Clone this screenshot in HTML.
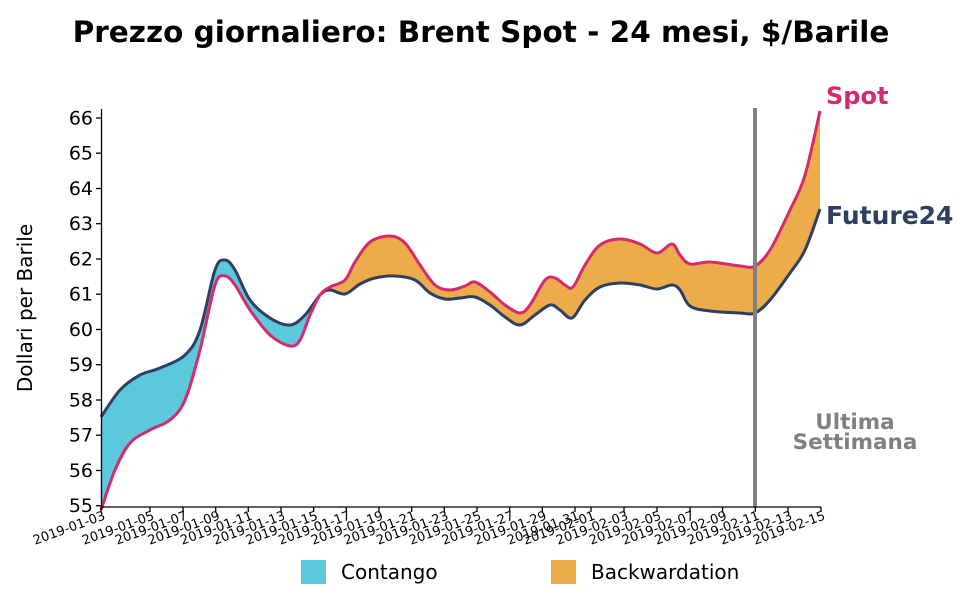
<!DOCTYPE html>
<html><head><meta charset="utf-8"><style>
body{margin:0;background:#fff}
svg{font-family:"DejaVu Sans","Liberation Sans",sans-serif}
</style></head><body>
<svg id="s" width="965" height="605" viewBox="0 0 965 605">
<rect width="965" height="605" fill="#fff"/>
<text x="481" y="42" text-anchor="middle" font-size="29.5" font-weight="bold">Prezzo giornaliero: Brent Spot - 24 mesi, $/Barile</text>
<defs>
<clipPath id="cl"><rect x="95" y="100" width="230" height="420"/></clipPath>
<clipPath id="cr"><rect x="325" y="100" width="500" height="420"/></clipPath>
</defs>
<path id="fl" clip-path="url(#cl)" fill="#5bc8dc" d=""/>
<path id="fr" clip-path="url(#cr)" fill="#ecac4c" d=""/>
<path id="lf" fill="none" stroke="#2e3f62" stroke-width="3" d=""/>
<path id="ls" fill="none" stroke="#d42a6e" stroke-width="3" d=""/>
<line x1="755" y1="108" x2="755" y2="507" stroke="#808080" stroke-width="4"/>
<g stroke="#000" stroke-width="1.3">
<line x1="101.5" y1="109" x2="101.5" y2="507"/>
<line x1="101" y1="507" x2="821" y2="507"/>
<line x1="96" y1="118" x2="101" y2="118"/><line x1="96" y1="153.2" x2="101" y2="153.2"/><line x1="96" y1="188.5" x2="101" y2="188.5"/><line x1="96" y1="223.7" x2="101" y2="223.7"/><line x1="96" y1="259" x2="101" y2="259"/><line x1="96" y1="294.2" x2="101" y2="294.2"/><line x1="96" y1="329.5" x2="101" y2="329.5"/><line x1="96" y1="364.7" x2="101" y2="364.7"/><line x1="96" y1="400" x2="101" y2="400"/><line x1="96" y1="435.2" x2="101" y2="435.2"/><line x1="96" y1="470.5" x2="101" y2="470.5"/><line x1="96" y1="505.7" x2="101" y2="505.7"/>
<line x1="101" y1="507" x2="101" y2="512"/><line x1="150" y1="507" x2="150" y2="512"/><line x1="183" y1="507" x2="183" y2="512"/><line x1="215.7" y1="507" x2="215.7" y2="512"/><line x1="248.3" y1="507" x2="248.3" y2="512"/><line x1="281" y1="507" x2="281" y2="512"/><line x1="313.7" y1="507" x2="313.7" y2="512"/><line x1="346.3" y1="507" x2="346.3" y2="512"/><line x1="379" y1="507" x2="379" y2="512"/><line x1="411.7" y1="507" x2="411.7" y2="512"/><line x1="444.3" y1="507" x2="444.3" y2="512"/><line x1="477" y1="507" x2="477" y2="512"/><line x1="509.7" y1="507" x2="509.7" y2="512"/><line x1="542.3" y1="507" x2="542.3" y2="512"/><line x1="575" y1="507" x2="575" y2="512"/><line x1="591" y1="507" x2="591" y2="512"/><line x1="624" y1="507" x2="624" y2="512"/><line x1="657" y1="507" x2="657" y2="512"/><line x1="690" y1="507" x2="690" y2="512"/><line x1="722.6" y1="507" x2="722.6" y2="512"/><line x1="755.3" y1="507" x2="755.3" y2="512"/><line x1="788" y1="507" x2="788" y2="512"/><line x1="821" y1="507" x2="821" y2="512"/>
</g>
<g font-size="19" text-anchor="end">
<text x="93" y="124.5">66</text><text x="93" y="159.5">65</text><text x="93" y="195">64</text><text x="93" y="230.2">63</text><text x="93" y="265.5">62</text><text x="93" y="300.5">61</text><text x="93" y="336">60</text><text x="93" y="371.2">59</text><text x="93" y="406.5">58</text><text x="93" y="441.5">57</text><text x="93" y="477">56</text><text x="93" y="512.2">55</text>
</g>
<g font-size="13" text-anchor="end">
<text transform="translate(106,519) rotate(-20)">2019-01-03</text>
<text transform="translate(155,519) rotate(-20)">2019-01-05</text>
<text transform="translate(188,519) rotate(-20)">2019-01-07</text>
<text transform="translate(220.7,519) rotate(-20)">2019-01-09</text>
<text transform="translate(253.3,519) rotate(-20)">2019-01-11</text>
<text transform="translate(286,519) rotate(-20)">2019-01-13</text>
<text transform="translate(318.7,519) rotate(-20)">2019-01-15</text>
<text transform="translate(351.3,519) rotate(-20)">2019-01-17</text>
<text transform="translate(384,519) rotate(-20)">2019-01-19</text>
<text transform="translate(416.7,519) rotate(-20)">2019-01-21</text>
<text transform="translate(449.3,519) rotate(-20)">2019-01-23</text>
<text transform="translate(482,519) rotate(-20)">2019-01-25</text>
<text transform="translate(514.7,519) rotate(-20)">2019-01-27</text>
<text transform="translate(547.3,519) rotate(-20)">2019-01-29</text>
<text transform="translate(580,519) rotate(-20)">2019-01-31</text>
<text transform="translate(596,519) rotate(-20)">2019-02-01</text>
<text transform="translate(629,519) rotate(-20)">2019-02-03</text>
<text transform="translate(662,519) rotate(-20)">2019-02-05</text>
<text transform="translate(695,519) rotate(-20)">2019-02-07</text>
<text transform="translate(727.6,519) rotate(-20)">2019-02-09</text>
<text transform="translate(760.3,519) rotate(-20)">2019-02-11</text>
<text transform="translate(793,519) rotate(-20)">2019-02-13</text>
<text transform="translate(826,519) rotate(-20)">2019-02-15</text>
</g>
<text transform="translate(32,308) rotate(-90)" text-anchor="middle" font-size="20">Dollari per Barile</text>
<text x="826" y="104" font-size="24" font-weight="bold" fill="#d42a6e">Spot</text>
<text x="826" y="224" font-size="25" font-weight="bold" fill="#2e3f62">Future24</text>
<text x="855" y="429" font-size="21.5" font-weight="bold" fill="#808080" text-anchor="middle">Ultima</text>
<text x="855" y="449" font-size="21.5" font-weight="bold" fill="#808080" text-anchor="middle">Settimana</text>
<rect x="301" y="560" width="25" height="24" fill="#5bc8dc"/>
<text x="341" y="579" font-size="20">Contango</text>
<rect x="551" y="560" width="25" height="24" fill="#ecac4c"/>
<text x="591" y="579" font-size="20">Backwardation</text>
</svg>
<script>
var F=[[101,417],[120,390],[140,375],[160,368],[185,355],[200,330],[215,270],[225,260],[235,270],[250,300],[270,318],[290,325],[305,315],[320,295],[330,290],[345,294],[360,284],[375,278],[395,276],[415,280],[430,293],[445,299],[460,298],[475,297],[490,305],[505,317],[520,325],[535,315],[550,305],[560,310],[572,318],[585,300],[600,287],[620,283],[640,285],[657,289],[672,285],[680,290],[690,306],[710,311],[740,313],[755,313],[770,300],[790,273],[805,250],[820,209]];
var S=[[101,510],[115,470],[130,443],[150,430],[170,420],[185,400],[200,350],[215,285],[225,276],[235,285],[250,310],[270,335],[290,346],[300,340],[310,315],[320,295],[330,287],[345,280],[355,262],[370,242],[390,236],[405,243],[420,265],[435,285],[450,290],[465,286],[475,282],[490,292],[505,305],[520,313],[530,305],[545,280],[555,278],[565,285],[573,287],[585,265],[600,245],[620,239],[640,244],[657,253],[672,244],[680,255],[690,264],[710,262],[740,266],[755,266],[770,250],[790,210],[805,175],[820,111]];
function cr(p,start){var d=start?"M"+p[0][0]+","+p[0][1]:"L"+p[0][0]+","+p[0][1];
for(var i=0;i<p.length-1;i++){var a=p[i-1]||p[i],b=p[i],c=p[i+1],e=p[i+2]||c;
d+="C"+(b[0]+(c[0]-a[0])/6)+","+(b[1]+(c[1]-a[1])/6)+" "+(c[0]-(e[0]-b[0])/6)+","+(c[1]-(e[1]-b[1])/6)+" "+c[0]+","+c[1];}return d;}
var df=cr(F,true),ds=cr(S,true),area=df+cr(S.slice().reverse(),false)+"Z";
document.getElementById("lf").setAttribute("d",df);
document.getElementById("ls").setAttribute("d",ds);
document.getElementById("fl").setAttribute("d",area);
document.getElementById("fr").setAttribute("d",area);
</script>
</body></html>
